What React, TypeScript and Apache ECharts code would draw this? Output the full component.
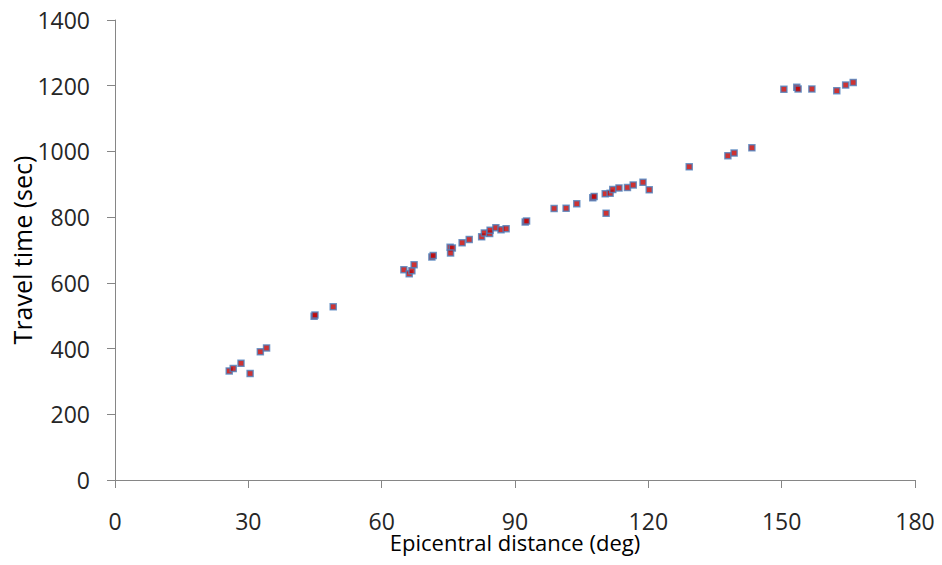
import React, { useEffect, useRef } from "react";
import * as echarts from "echarts";

const distances: number[] = [
  25.7, 26.6, 28.35, 30.4, 32.7, 34.1, 44.8, 45.0, 49.1,
  65.0, 66.2, 66.8, 67.3, 71.3, 71.6, 75.4, 75.9, 75.5, 78.1, 79.7,
  82.5, 83.1, 84.3, 84.4, 85.7, 86.85, 88.0, 92.3, 92.6,
  98.8, 101.5, 103.9, 107.5, 107.8, 110.3, 111.4, 110.5, 112.0, 113.4, 115.3, 116.6, 118.8, 120.2,
  129.2, 137.9, 139.3, 143.3,
  150.5, 153.4, 153.7, 156.8, 162.4, 164.4, 166.1,
];
const travelTimes: number[] = [
  332, 339, 355, 324, 390, 402, 498, 502, 527,
  640, 628, 637, 655, 679, 683, 708, 706, 691, 722, 732,
  740, 752, 750, 760, 768, 762, 765, 785, 788,
  826, 827, 841, 859, 863, 871, 873, 812, 884, 889, 890, 898, 906, 883,
  953, 987, 995, 1011,
  1189, 1195, 1190, 1190, 1185, 1202, 1210,
];
const xTitle = "Epicentral distance (deg)";
const yTitle = "Travel time (sec)";

export default function App() {
  const ref = useRef<HTMLDivElement>(null);
  useEffect(() => {
    if (!ref.current) return;
    const chart = echarts.init(ref.current, undefined, { renderer: "svg" });
    const font = "'Open Sans', 'Noto Sans', sans-serif";
    chart.setOption({
      animation: false,
      backgroundColor: "#ffffff",
      grid: { left: 115, right: 27, top: 20, bottom: 85, containLabel: false, outerBoundsMode: "none" },
      xAxis: {
        type: "value",
        min: 0,
        max: 180,
        interval: 30,
        name: xTitle,
        nameLocation: "middle",
        nameGap: 51,
        nameMoveOverlap: false,
        nameTextStyle: { fontFamily: font, fontSize: 22, color: "#000000" },
        axisLine: { show: true, lineStyle: { color: "#868686", width: 1 } },
        axisTick: { show: true, length: 8, lineStyle: { color: "#868686" } },
        axisLabel: {
          fontFamily: font,
          fontSize: 23,
          color: "#262626",
          margin: 29,
          formatter: (v: number) => String(v),
        },
        splitLine: { show: false },
      },
      yAxis: {
        type: "value",
        min: 0,
        max: 1400,
        interval: 200,
        name: yTitle,
        nameLocation: "middle",
        nameGap: 81,
        nameMoveOverlap: false,
        nameTextStyle: { fontFamily: font, fontSize: 25, color: "#000000" },
        axisLine: { show: true, lineStyle: { color: "#868686", width: 1 } },
        axisTick: { show: true, length: 8, lineStyle: { color: "#868686" } },
        axisLabel: {
          fontFamily: font,
          fontSize: 23,
          color: "#262626",
          margin: 25,
          formatter: (v: number) => String(v),
        },
        splitLine: { show: false },
      },
      series: [
        {
          type: "scatter",
          data: distances.map((d, i) => [d, travelTimes[i]]),
          symbol: "rect",
          symbolSize: 6,
          itemStyle: { color: "#c00000", borderColor: "#4f81bd", borderWidth: 1.5 },
        },
      ],
    });
    return () => chart.dispose();
  }, []);
  return (
    <div
      ref={ref}
      style={{ position: "fixed", left: 0, top: 0, width: 942, height: 565, background: "#fff" }}
    />
  );
}
